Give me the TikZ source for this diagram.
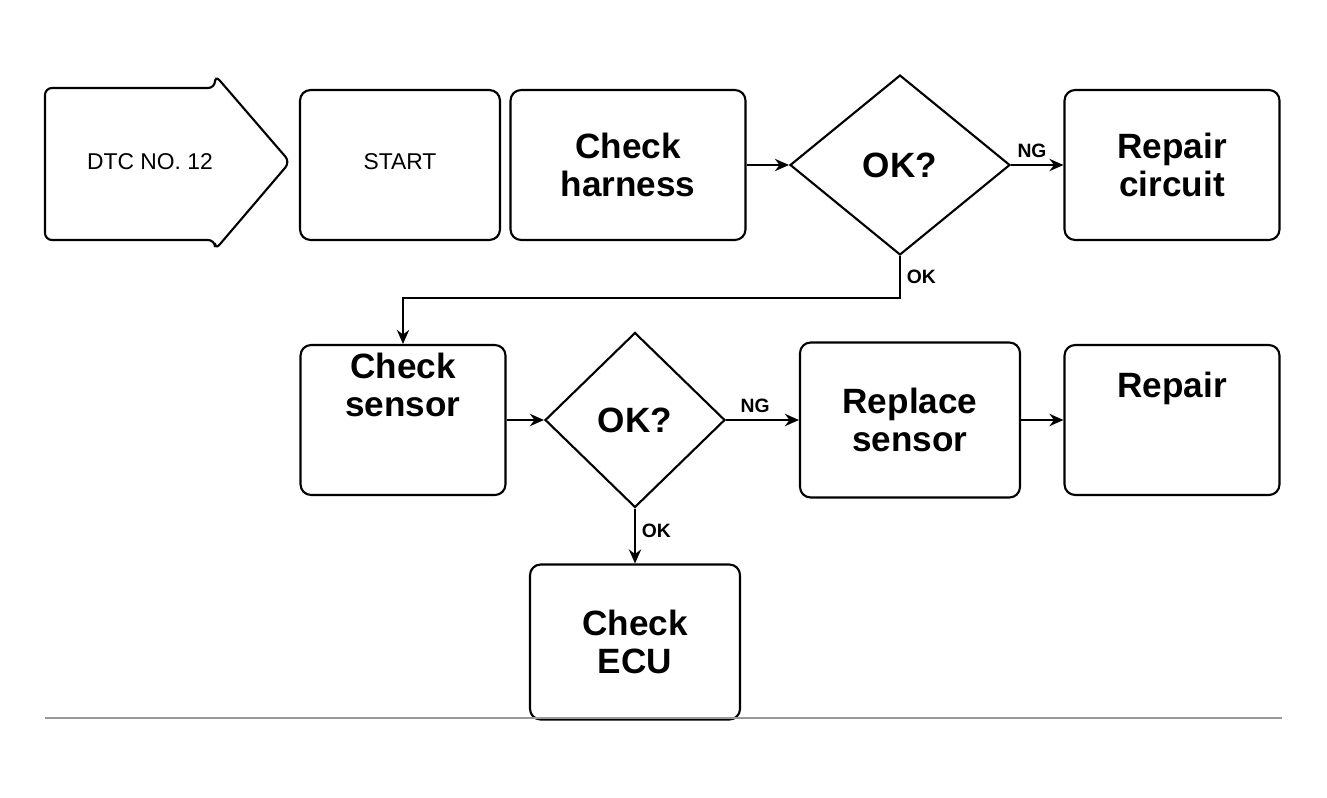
\documentclass[tikz,border=0pt]{standalone}
\usepackage{fontspec}
\setmainfont{Liberation Sans}
\usetikzlibrary{shapes.geometric,arrows.meta}
\begin{document}
\begin{tikzpicture}[x=0.02cm,y=-0.02cm,
  box/.style={draw=black,line width=1.2pt,rounded corners=6pt,fill=white,align=center,inner sep=2pt},
  dia/.style={draw=black,line width=1.2pt,diamond,aspect=1.2,fill=white,align=center,inner sep=1pt},
  big/.style={font=\bfseries\fontsize{20}{22}\selectfont},
  small/.style={font=\fontsize{13}{15}\selectfont},
  lbl/.style={font=\bfseries\fontsize{11}{12}\selectfont},
  conn/.style={draw=black,line width=1.2pt},
  arr/.style={conn,-{Stealth[length=8pt,width=7pt]}}]
\useasboundingbox (0,0) rectangle (1327,797);
% start arrow shape
\draw[line width=1.2pt,rounded corners=4pt,fill=white]
  (45,88) -- (215,88) -- (215,75) -- (290,162) -- (215,250) -- (215,240) -- (45,240) -- cycle;
\node[small] (start) at (150,162) {DTC NO. 12};
\node[box,minimum width=4.0cm,minimum height=3.0cm] (b2) at (400,165) {};
\node[small] (b2t) at (400,162) {START};
\node[box,minimum width=4.7cm,minimum height=3.0cm,big] (b3) at (628,165) {Check\\harness};
\node[dia,minimum width=4.4cm,minimum height=3.6cm,big] (d1) at (900,165) {OK?};
\node[box,minimum width=4.3cm,minimum height=3.0cm,big] (b4) at (1172,165) {Repair\\circuit};
\node[box,minimum width=4.1cm,minimum height=3.0cm,big] (b5) at (403,420) {Check\\sensor\\[18pt]};
\node[dia,minimum width=3.6cm,minimum height=3.5cm,big] (d2) at (635,420) {OK?};
\node[box,minimum width=4.4cm,minimum height=3.1cm,big] (b6) at (910,420) {Replace\\sensor};
\node[box,minimum width=4.3cm,minimum height=3.0cm,big] (b7) at (1172,420) {Repair\\[18pt]};
\node[box,minimum width=4.2cm,minimum height=3.1cm,big] (b8) at (635,642) {Check\\ECU};
% connectors
\draw[arr] (b3.east) -- (d1.west);
\draw[arr] (d1.east) -- node[lbl,above,pos=0.4] {NG} (b4.west);
\coordinate (j1) at (900,298);
\coordinate (j2) at (403,298);
\draw[arr] (d1.south) -- node[lbl,right,pos=0.5] {OK} (j1) -- (j2) -- (b5.north);
\draw[arr] (b5.east) -- (d2.west);
\draw[arr] (d2.east) -- node[lbl,above,pos=0.4] {NG} (b6.west);
\draw[arr] (b6.east) -- (b7.west);
\draw[arr] (d2.south) -- node[lbl,right,pos=0.4] {OK} (b8.north);
\coordinate (l1) at (45,718);
\coordinate (l2) at (1282,718);
\draw[black!40,line width=0.8pt] (l1) -- (l2);
\end{tikzpicture}
\end{document}
